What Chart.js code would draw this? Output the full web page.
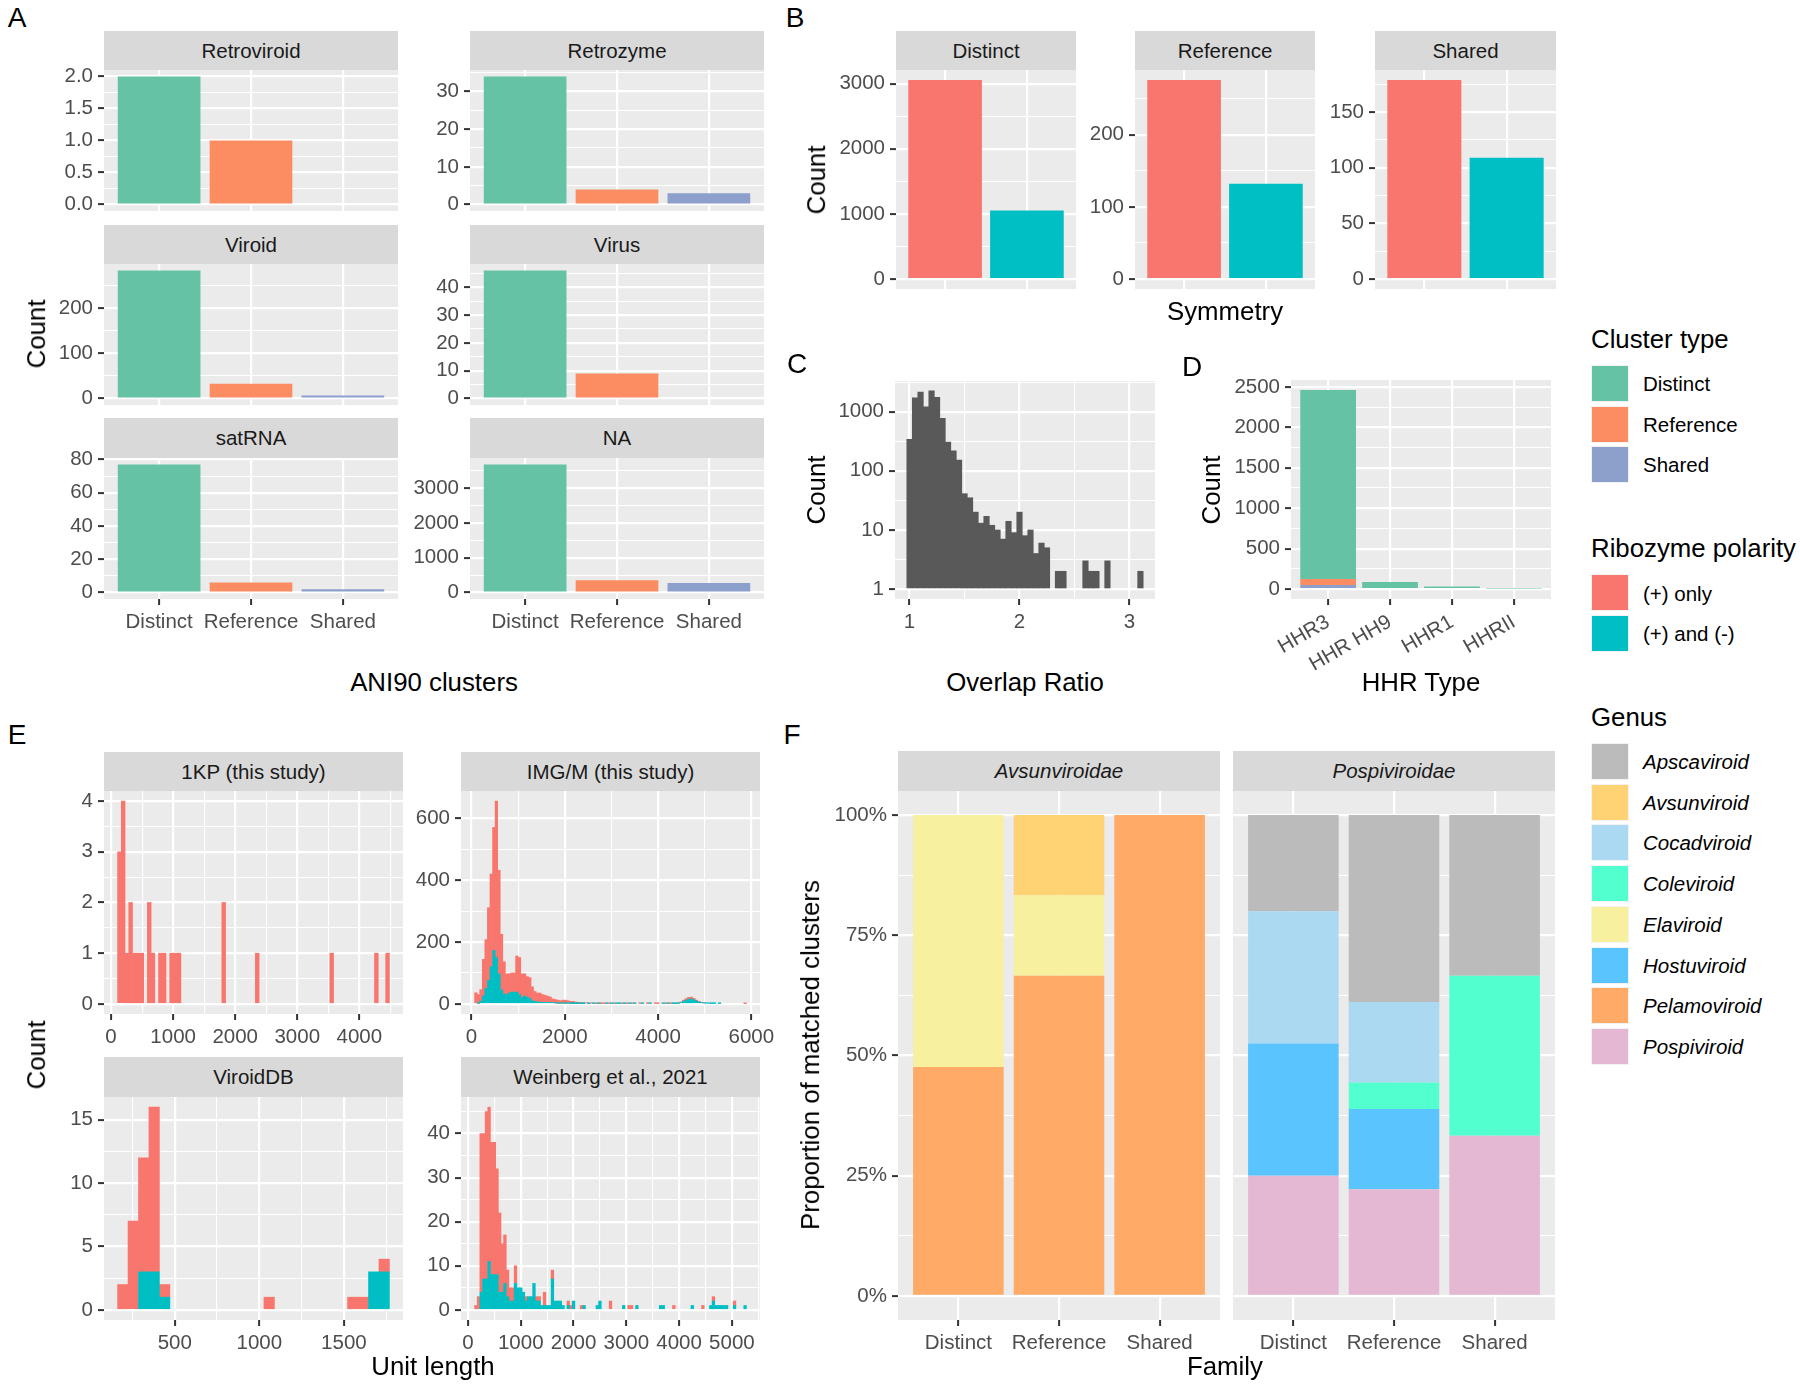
<!DOCTYPE html>
<html>
<head>
<meta charset="utf-8">
<script src="https://cdn.jsdelivr.net/npm/chart.js@4.4.1/dist/chart.umd.min.js"></script>
<style>
body { margin: 0; background: #fff; }
#stage { position: relative; width: 1800px; height: 1388px; overflow: hidden; font-family: 'Liberation Sans', Arial, sans-serif; }
.t { position: absolute; white-space: nowrap; line-height: 1; }
.strip { position: absolute; background: #D9D9D9; color: #1A1A1A; font-size: 20.5px; display: flex; align-items: center; justify-content: center; }
.key { position: absolute; width: 38px; height: 37px; box-sizing: border-box; border: 1.5px solid #F2F2F2; }
canvas { position: absolute; }
</style>
</head>
<body>
<div id="stage"></div>
<script>
// ---- data ----
const clusterTypes = ['Distinct', 'Reference', 'Shared'];
const clusterColors = ['#66C2A5', '#FC8D62', '#8DA0CB'];
const polarityNames = ['(+) only', '(+) and (-)'];
const polarityColors = ['#F8766D', '#00BFC4'];

// A: ANI90 clusters by class
const aniRetroviroid = [2, 1, 0];
const aniRetrozyme = [34, 4, 3];
const aniViroid = [283, 33, 7];
const aniVirus = [46, 9, 0];
const aniSatRNA = [77, 6, 2];
const aniNA = [3688, 353, 278];
const ticksRetroviroid = [0, 0.5, 1, 1.5, 2];
const ticksRetrozyme = [0, 10, 20, 30];
const ticksViroid = [0, 100, 200];
const ticksVirus = [0, 10, 20, 30, 40];
const ticksSatRNA = [0, 20, 40, 60, 80];
const ticksNA = [0, 1000, 2000, 3000];

// B: symmetry (+) only / (+) and (-)
const symDistinct = [3057, 1054];
const symReference = [276, 132];
const symShared = [179, 109];
const ticksSymDistinct = [0, 1000, 2000, 3000];
const ticksSymReference = [0, 100, 200];
const ticksSymShared = [0, 50, 100, 150];

// C: overlap ratio histogram (bin centres, counts)
const overlapBins = [1.00, 1.05, 1.10, 1.15, 1.20, 1.25, 1.30, 1.35, 1.40, 1.45, 1.50, 1.55, 1.60, 1.65, 1.70,
  1.75, 1.80, 1.85, 1.90, 1.95, 2.00, 2.05, 2.10, 2.15, 2.20, 2.25, 2.35, 2.40, 2.60, 2.65, 2.70, 2.80, 3.10];
const overlapCounts = [339, 1715, 2140, 1210, 2240, 1740, 767, 305, 218, 151, 41, 35, 20, 13, 17,
  12, 10, 7, 14, 9, 20, 8, 10, 4, 6, 5, 2, 2, 3, 2, 2, 3, 2];
const ticksOverlapX = [1, 2, 3];
const ticksOverlapY = [1, 10, 100, 1000];

// D: HHR type
const hhrTypes = ['HHR3', 'HHR HH9', 'HHR1', 'HHRII'];
const hhrDistinct = [2338, 87, 33, 8];
const hhrReference = [74, 0, 0, 0];
const hhrShared = [50, 0, 0, 0];
const ticksHHR = [0, 500, 1000, 1500, 2000, 2500];

// E: unit length histograms
const kpBins = [135, 195, 255, 315, 375, 435, 495, 615, 675, 795, 855, 975, 1035, 1095, 1815, 2355, 3555, 4275, 4455];
const kpPlusOnly = [3, 4, 1, 2, 1, 1, 1, 2, 1, 1, 1, 1, 1, 1, 2, 1, 1, 1, 1];

const imgBins = [92.5, 147.5, 202.5, 257.5, 312.5, 367.5, 422.5, 477.5, 532.5, 587.5,
  642.5, 697.5, 752.5, 807.5, 862.5, 917.5, 972.5, 1027.5, 1082.5, 1137.5,
  1192.5, 1247.5, 1302.5, 1357.5, 1412.5, 1467.5, 1522.5, 1577.5, 1632.5, 1687.5,
  1742.5, 1797.5, 1852.5, 1907.5, 1962.5, 2017.5, 2072.5, 2127.5, 2182.5, 2237.5,
  2292.5, 2347.5, 2402.5, 2457.5, 2512.5, 2567.5, 2622.5, 2677.5, 2732.5, 2787.5,
  2842.5, 2897.5, 2952.5, 3007.5, 3062.5, 3117.5, 3172.5, 3227.5, 3282.5, 3337.5,
  3392.5, 3447.5, 3502.5, 3612.5, 3667.5, 3777.5, 3832.5, 3942.5, 3997.5, 4107.5,
  4162.5, 4217.5, 4272.5, 4327.5, 4382.5, 4437.5, 4492.5, 4547.5, 4602.5, 4657.5,
  4712.5, 4767.5, 4822.5, 4877.5, 4932.5, 4987.5, 5042.5, 5097.5, 5152.5, 5207.5,
  5317.5, 5867.5];
const imgPlusMinus = [0, 2, 9, 26, 50, 76, 120, 173, 150, 97,
  45, 32, 30, 35, 38, 38, 38, 30, 20, 25,
  22, 18, 10, 8, 6, 6, 5, 5, 5, 5,
  4, 3, 2, 2, 2, 2, 2, 1, 1, 1,
  1, 1, 1, 0, 1, 0, 1, 0, 1, 0,
  0, 1, 0, 1, 0, 1, 1, 0, 1, 0,
  1, 0, 1, 0, 1, 0, 1, 0, 0, 1,
  0, 1, 0, 1, 1, 2, 4, 8, 12, 15,
  16, 13, 9, 6, 4, 3, 2, 2, 1, 1,
  1, 0];
const imgPlusOnly = [36, 28, 37, 118, 158, 235, 300, 398, 506, 335,
  180, 104, 67, 62, 62, 62, 117, 120, 77, 72,
  66, 67, 45, 32, 29, 29, 25, 23, 20, 17,
  12, 11, 10, 8, 10, 10, 8, 7, 7, 5,
  4, 4, 3, 3, 1, 2, 0, 1, 1, 1,
  1, 0, 1, 0, 1, 0, 0, 1, 1, 1,
  0, 1, 0, 1, 0, 1, 0, 1, 1, 0,
  1, 0, 1, 1, 1, 1, 2, 4, 5, 6,
  6, 5, 3, 2, 1, 1, 0, 0, 0, 0,
  0, 1];

const vdbBins = [193, 254.8, 316.6, 378.4, 440.2, 1058.2, 1552.6, 1614.4, 1676.2, 1738];
const vdbPlusMinus = [0, 0, 3, 3, 1, 0, 0, 0, 3, 3];
const vdbPlusOnly = [2, 7, 9, 13, 1, 1, 1, 1, 0, 1];

const wbBins = [150, 200, 250, 300, 350, 400, 450, 500, 550, 600,
  650, 700, 750, 800, 850, 900, 950, 1000, 1050, 1100,
  1150, 1200, 1250, 1300, 1350, 1400, 1450, 1500, 1550, 1600,
  1650, 1700, 1750, 1800, 1900, 1950, 2000, 2150, 2200, 2450,
  2500, 2700, 2950, 3050, 3100, 3200, 3650, 3700, 3900, 4250,
  4450, 4600, 4650, 4700, 4750, 4800, 4850, 4900, 5050, 5250];
const wbPlusMinus = [0, 0, 4, 7, 7, 11, 8, 8, 8, 4,
  4, 6, 3, 2, 2, 6, 5, 5, 4, 2,
  3, 3, 6, 2, 2, 1, 1, 1, 1, 7,
  2, 2, 2, 1, 1, 0, 2, 0, 1, 1,
  2, 0, 1, 0, 0, 1, 1, 1, 0, 1,
  0, 1, 2, 1, 1, 1, 1, 1, 1, 1];
const wbPlusOnly = [1, 3, 36, 33, 38, 35, 30, 30, 24, 18,
  11, 11, 6, 3, 3, 4, 0, 0, 0, 1,
  0, 0, 0, 1, 1, 0, 3, 0, 0, 2,
  0, 0, 0, 0, 1, 1, 0, 1, 0, 0,
  0, 2, 0, 1, 1, 0, 0, 0, 1, 0,
  1, 0, 1, 0, 0, 0, 0, 0, 1, 0];

const ticksKpX = [0, 1000, 2000, 3000, 4000];
const ticksKpY = [0, 1, 2, 3, 4];
const ticksImgX = [0, 2000, 4000, 6000];
const ticksImgY = [0, 200, 400, 600];
const ticksVdbX = [500, 1000, 1500];
const ticksVdbY = [0, 5, 10, 15];
const ticksWbX = [0, 1000, 2000, 3000, 4000, 5000];
const ticksWbY = [0, 10, 20, 30, 40];

// F: genus proportions per family
const genusNames = ['Apscaviroid', 'Avsunviroid', 'Cocadviroid', 'Coleviroid', 'Elaviroid', 'Hostuviroid', 'Pelamoviroid', 'Pospiviroid'];
const genusColors = ['#BBBBBB', '#FFD373', '#ABD9F2', '#52FFCE', '#F7F09F', '#5AC4FF', '#FFAA67', '#E4B8D2'];
const avsAvsunviroid = [0, 0.167, 0];
const avsElaviroid = [0.524, 0.167, 0];
const avsPelamoviroid = [0.476, 0.666, 1];
const posApscaviroid = [0.2, 0.389, 0.334];
const posCocadviroid = [0.275, 0.167, 0];
const posColeviroid = [0, 0.055, 0.333];
const posHostuviroid = [0.275, 0.167, 0];
const posPospiviroid = [0.25, 0.222, 0.333];
const ticksProp = [0, 0.25, 0.5, 0.75, 1];

// ---- drawing ----
Chart.defaults.font.family = "'Liberation Sans', Arial, sans-serif";
Chart.defaults.font.size = 20.5;
Chart.defaults.color = '#4D4D4D';
Chart.defaults.animation = false;
Chart.defaults.responsive = false;
Chart.defaults.events = [];
Chart.defaults.plugins.legend.display = false;
Chart.defaults.plugins.tooltip.enabled = false;

Chart.register({
  id: 'panelBg',
  beforeDraw(chart) {
    const a = chart.chartArea, c = chart.ctx;
    c.save();
    c.fillStyle = '#EBEBEB';
    c.fillRect(a.left, a.top, a.right - a.left, a.bottom - a.top);
    c.restore();
  }
});

const stage = document.getElementById('stage');
const PAD = 16;

function gg(lo, hi) { const d = (hi - lo) * 0.05; return [lo - d, hi + d]; }

function minorsOf(majors, min, max, log) {
  const f = log ? Math.log10 : v => v, g = log ? v => Math.pow(10, v) : v => v;
  const m = majors.map(f), step = m[1] - m[0], out = [];
  for (let v = m[0] - step / 2; v <= f(max) + 1e-9; v += step) if (v >= f(min)) out.push(g(v));
  return out;
}

function axisOpts(ax, horizontal) {
  const minors = ax.noMinor ? [] : minorsOf(ax.majors, ax.min, ax.max, ax.log);
  const ticks = ax.majors.map(v => ({value: v})).concat(minors.map(v => ({value: v, minor: true})))
    .sort((a, b) => a.value - b.value);
  const show = ax.show !== false;
  return {
    type: ax.log ? 'logarithmic' : 'linear',
    min: ax.min, max: ax.max,
    offset: false,
    stacked: !!ax.stacked,
    border: {display: false},
    grid: {
      offset: false,
      color: '#FFFFFF',
      lineWidth: c => (c.tick && c.tick.minor) ? 1.1 : 2.2,
      drawTicks: show,
      tickLength: 6,
      tickWidth: 2,
      tickColor: c => (c.tick && c.tick.minor) ? 'rgba(0,0,0,0)' : '#333333'
    },
    ticks: {
      display: show,
      autoSkip: false,
      padding: 5,
      color: '#4D4D4D',
      font: {size: 20.5},
      maxRotation: ax.rotate || 0,
      minRotation: ax.rotate || 0,
      callback: (v, i, t) => t[i].minor ? '' : (ax.fmt ? ax.fmt(v) : String(v))
    },
    afterBuildTicks: s => { s.ticks = ticks.map(t => Object.assign({}, t)); },
    afterFit: s => {
      if (horizontal) s.height = ax.size; else s.width = ax.size;
      s.paddingTop = s.paddingBottom = s.paddingLeft = s.paddingRight = 0;
    }
  };
}

function panel(box, xa, ya, datasets) {
  const l = Math.round(box[0]), t = Math.round(box[1]);
  const w = Math.round(box[2] - box[0]), h = Math.round(box[3] - box[1]);
  const cv = document.createElement('canvas');
  const W = ya.size + w + 2 * PAD, H = h + xa.size + 2 * PAD;
  cv.width = W; cv.height = H;
  cv.style.left = (l - ya.size - PAD) + 'px';
  cv.style.top = (t - PAD) + 'px';
  stage.appendChild(cv);
  return new Chart(cv, {
    type: 'bar',
    data: {datasets},
    options: {
      layout: {padding: PAD},
      scales: {x: axisOpts(xa, true), y: axisOpts(ya, false)}
    }
  });
}

function pts(xs, ys) { return xs.map((x, i) => ({x: x, y: ys[i] ? ys[i] : null})); }

function text(str, x, y, o = {}) {
  const d = document.createElement('div');
  d.className = 't';
  d.textContent = str;
  d.style.left = x + 'px';
  d.style.top = y + 'px';
  d.style.fontSize = (o.size || 25.8) + 'px';
  d.style.color = o.color || '#000';
  if (o.italic) d.style.fontStyle = 'italic';
  d.style.transform = (o.left ? 'translate(0,-50%)' : 'translate(-50%,-50%)') + (o.rotate ? ' rotate(-90deg)' : '');
  stage.appendChild(d);
}

function strip(str, l, t, r, b, italic) {
  const d = document.createElement('div');
  d.className = 'strip';
  d.textContent = str;
  d.style.left = Math.round(l) + 'px';
  d.style.top = Math.round(t) + 'px';
  d.style.width = Math.round(r - l) + 'px';
  d.style.height = Math.round(b - t) + 'px';
  if (italic) d.style.fontStyle = 'italic';
  stage.appendChild(d);
}

function key(color, l, t) {
  const d = document.createElement('div');
  d.className = 'key';
  d.style.left = l + 'px';
  d.style.top = t + 'px';
  d.style.background = color;
  stage.appendChild(d);
}

const catIdx = [0, 1, 2];

// ---- Panel A ----
const aFacets = [
  ['Retroviroid', aniRetroviroid, ticksRetroviroid, v => v.toFixed(1)],
  ['Retrozyme', aniRetrozyme, ticksRetrozyme],
  ['Viroid', aniViroid, ticksViroid],
  ['Virus', aniVirus, ticksVirus],
  ['satRNA', aniSatRNA, ticksSatRNA],
  ['NA', aniNA, ticksNA]
];
const aCols = [[104, 398], [469.5, 763.5]];
const aRows = [[31, 70, 211], [225, 264, 405], [418, 458, 599]];
aFacets.forEach((f, i) => {
  const col = aCols[i % 2], row = aRows[Math.floor(i / 2)], bottom = i >= 4;
  strip(f[0], col[0], row[0], col[1], row[1]);
  const yr = gg(0, Math.max(...f[1]));
  panel([col[0], row[1], col[1], row[2]],
    {min: -0.6, max: 2.6, majors: catIdx, noMinor: true, show: bottom, size: bottom ? 45 : 0, fmt: v => clusterTypes[v]},
    {min: yr[0], max: yr[1], majors: f[2], size: 80, fmt: f[3]},
    [{data: pts(catIdx, f[1]), backgroundColor: clusterColors, barPercentage: 0.9, categoryPercentage: 1}]);
});
text('A', 17, 18, {size: 28});
text('Count', 37, 334, {rotate: true});
text('ANI90 clusters', 434, 683);

// ---- Panel B ----
const bFacets = [
  ['Distinct', symDistinct, ticksSymDistinct, [895.5, 1075.5]],
  ['Reference', symReference, ticksSymReference, [1135, 1315]],
  ['Shared', symShared, ticksSymShared, [1374.5, 1555]]
];
bFacets.forEach(f => {
  strip(f[0], f[3][0], 31, f[3][1], 70);
  const yr = gg(0, Math.max(...f[1]));
  panel([f[3][0], 70, f[3][1], 289],
    {min: -0.6, max: 1.6, majors: [0, 1], noMinor: true, show: false, size: 0},
    {min: yr[0], max: yr[1], majors: f[2], size: 80},
    [{data: pts([0, 1], f[1]), backgroundColor: polarityColors, barPercentage: 0.9, categoryPercentage: 1}]);
});
text('B', 795, 18, {size: 28});
text('Count', 817, 180, {rotate: true});
text('Symmetry', 1225, 312);

// ---- Panel C ----
(function () {
  let w = Infinity;
  for (let i = 1; i < overlapBins.length; i++) w = Math.min(w, overlapBins[i] - overlapBins[i - 1]);
  const xr = gg(overlapBins[0] - w / 2, overlapBins[overlapBins.length - 1] + w / 2);
  const hi = Math.log10(Math.max(...overlapCounts));
  panel([895, 381, 1155, 599],
    {min: xr[0], max: xr[1], majors: ticksOverlapX, size: 45},
    {min: Math.pow(10, -0.05 * hi), max: Math.pow(10, 1.05 * hi), majors: ticksOverlapY, log: true, size: 80},
    [{data: pts(overlapBins, overlapCounts), backgroundColor: '#595959', base: 1, barPercentage: 1, categoryPercentage: 1}]);
})();
text('C', 797, 364, {size: 28});
text('Count', 817, 490, {rotate: true});
text('Overlap Ratio', 1025, 683);

// ---- Panel D ----
(function () {
  const idx = [0, 1, 2, 3];
  const tot = idx.map(i => hhrDistinct[i] + hhrReference[i] + hhrShared[i]);
  const yr = gg(0, Math.max(...tot));
  panel([1291, 380, 1551, 599],
    {min: -0.6, max: 3.6, majors: idx, noMinor: true, size: 80, rotate: 30, fmt: v => hhrTypes[v], stacked: true},
    {min: yr[0], max: yr[1], majors: ticksHHR, size: 80, stacked: true},
    [
      {data: pts(idx, hhrShared), backgroundColor: clusterColors[2], barPercentage: 0.9, categoryPercentage: 1},
      {data: pts(idx, hhrReference), backgroundColor: clusterColors[1], barPercentage: 0.9, categoryPercentage: 1},
      {data: pts(idx, hhrDistinct), backgroundColor: clusterColors[0], barPercentage: 0.9, categoryPercentage: 1}
    ]);
})();
text('D', 1192, 367, {size: 28});
text('Count', 1212, 490, {rotate: true});
text('HHR Type', 1421, 683);

// ---- Legends ----
text('Cluster type', 1591, 340, {left: true});
clusterTypes.forEach((n, i) => {
  key(clusterColors[i], 1591, 365 + 40.7 * i);
  text(n, 1643, 384 + 40.7 * i, {left: true, size: 20.5});
});
text('Ribozyme polarity', 1591, 549, {left: true});
polarityNames.forEach((n, i) => {
  key(polarityColors[i], 1591, 574 + 40.7 * i);
  text(n, 1643, 593.5 + 40.7 * i, {left: true, size: 20.5});
});
text('Genus', 1591, 718, {left: true});
genusNames.forEach((n, i) => {
  key(genusColors[i], 1591, 743 + 40.7 * i);
  text(n, 1643, 762 + 40.7 * i, {left: true, size: 20.5, italic: true});
});

// ---- Panel E ----
function hist(name, box, stripTop, bins, plusMinus, plusOnly, xt, yt) {
  strip(name, box[0], stripTop, box[2], box[1]);
  let w = Infinity;
  for (let i = 1; i < bins.length; i++) w = Math.min(w, bins[i] - bins[i - 1]);
  const xr = gg(bins[0] - w / 2, bins[bins.length - 1] + w / 2);
  const tot = bins.map((b, i) => (plusMinus ? plusMinus[i] : 0) + plusOnly[i]);
  const yr = gg(0, Math.max(...tot));
  const ds = [];
  if (plusMinus) ds.push({data: pts(bins, plusMinus), backgroundColor: polarityColors[1], barPercentage: 1, categoryPercentage: 1});
  ds.push({data: pts(bins, plusOnly), backgroundColor: polarityColors[0], barPercentage: 1, categoryPercentage: 1});
  panel(box,
    {min: xr[0], max: xr[1], majors: xt, size: 45, stacked: true},
    {min: yr[0], max: yr[1], majors: yt, size: 80, stacked: true},
    ds);
}
hist('1KP (this study)', [104, 791, 402.5, 1013.5], 752, kpBins, null, kpPlusOnly, ticksKpX, ticksKpY);
hist('IMG/M (this study)', [461, 791, 759.5, 1013.5], 752, imgBins, imgPlusMinus, imgPlusOnly, ticksImgX, ticksImgY);
hist('ViroidDB', [104, 1097, 402.5, 1320], 1057, vdbBins, vdbPlusMinus, vdbPlusOnly, ticksVdbX, ticksVdbY);
hist('Weinberg et al., 2021', [461, 1097, 759.5, 1320], 1057, wbBins, wbPlusMinus, wbPlusOnly, ticksWbX, ticksWbY);
text('E', 17, 735, {size: 28});
text('Count', 37, 1055, {rotate: true});
text('Unit length', 433, 1367);

// ---- Panel F ----
function propPanel(name, box, stack, showY) {
  strip(name, box[0], 751, box[2], box[1], true);
  panel(box,
    {min: -0.6, max: 2.6, majors: catIdx, noMinor: true, size: 45, fmt: v => clusterTypes[v], stacked: true},
    {min: -0.05, max: 1.05, majors: ticksProp, size: showY ? 90 : 0, show: showY, stacked: true,
      fmt: v => Math.round(v * 100) + '%'},
    stack.map(s => ({data: pts(catIdx, s[1]), backgroundColor: genusColors[genusNames.indexOf(s[0])],
      barPercentage: 0.9, categoryPercentage: 1})));
}
propPanel('Avsunviroidae', [897.5, 791, 1219, 1320], [
  ['Pelamoviroid', avsPelamoviroid], ['Elaviroid', avsElaviroid], ['Avsunviroid', avsAvsunviroid]
], true);
propPanel('Pospiviroidae', [1233, 791, 1555, 1320], [
  ['Pospiviroid', posPospiviroid], ['Hostuviroid', posHostuviroid], ['Coleviroid', posColeviroid],
  ['Cocadviroid', posCocadviroid], ['Apscaviroid', posApscaviroid]
], false);
text('F', 792, 735, {size: 28});
text('Proportion of matched clusters', 811, 1055, {rotate: true});
text('Family', 1225, 1367);
</script>
</body>
</html>
